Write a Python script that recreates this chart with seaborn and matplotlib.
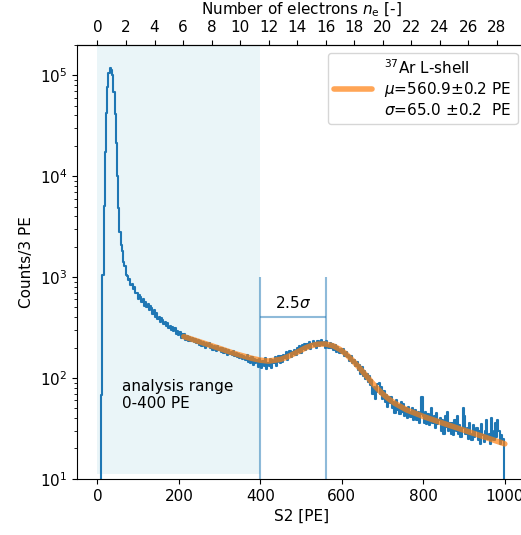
import matplotlib
matplotlib.use('Agg')
import matplotlib.pyplot as plt
import numpy as np
import pandas as pd
import seaborn as sns

# Histogram counts per 3 PE bin, bins start at 0 PE
counts_rise = [0, 0, 0, 68, 1050, 5100, 17400, 42000, 76000, 105000,
               118000, 112000, 100000, 69000, 41000, 21400, 10000, 4800, 2800, 2100]
counts_shoulder = [1800, 1420, 1280, 1060, 1020, 930, 950, 840, 860, 760,
                   790, 690, 700, 610, 660, 640, 570, 610, 520, 560,
                   500, 540, 470, 515, 490, 430, 475, 400, 445, 380,
                   405, 360, 390, 375, 340, 362, 325, 350, 310, 330,
                   300, 322, 290, 310, 272, 295, 265, 285, 250, 275]
counts_plateau = [248, 270, 240, 262, 235, 255, 230, 250, 244, 226,
                  245, 222, 240, 214, 232, 205, 228, 218, 200, 220,
                  205, 222, 196, 212, 190, 208, 200, 185, 206, 188,
                  200, 182, 196, 175, 192, 185, 170, 190, 172, 182,
                  168, 185, 165, 178, 160, 174, 158, 170, 155, 166,
                  160, 150, 168, 145, 158, 140, 162, 135, 155, 142,
                  150, 128, 155, 135, 125, 148, 130, 158, 122, 140]
counts_peak = [130, 155, 125, 150, 140, 162, 132, 145, 165, 140,
               165, 145, 170, 158, 180, 150, 175, 185, 160, 182,
               172, 190, 168, 198, 182, 205, 175, 210, 192, 215,
               190, 215, 200, 225, 195, 218, 230, 205, 222, 200,
               230, 205, 225, 240, 210, 228, 200, 232, 212, 198,
               220, 198, 215, 190, 210, 182, 202, 195, 175, 195,
               178, 195, 165, 180, 160, 170, 148, 165, 140, 152,
               150, 130, 145, 120, 135, 110, 128, 105, 118, 98,
               110, 92, 104, 85, 95, 70, 82, 62, 72, 88,
               90, 70, 82, 62, 75, 58, 68, 52, 65, 56]
counts_tail = [64, 50, 58, 45, 60, 48, 54, 44, 58, 46,
               55, 42, 50, 40, 52, 46, 41, 50, 38, 47,
               48, 38, 46, 36, 44, 64, 42, 36, 46, 35,
               44, 34, 40, 50, 36, 42, 32, 45, 35, 38,
               40, 30, 38, 28, 42, 33, 46, 30, 36, 28,
               36, 27, 38, 30, 42, 28, 34, 26, 32, 50,
               42, 28, 32, 25, 36, 28, 24, 34, 26, 30,
               32, 24, 30, 22, 35, 27, 23, 30, 38, 25,
               28, 22, 40, 30, 24, 36, 26, 38, 30, 22,
               27, 24, 25, 0]

# Fitted curve (Ar-37 L-shell peak + background)
fit_x = [212, 260, 300, 340, 380, 400, 420, 450, 465, 480, 495, 510, 525, 540, 560,
         580, 595, 610, 625, 640, 655, 670, 685, 700, 715, 730, 760, 800, 850, 900, 950, 1000]
fit_y = [257, 222, 196, 173, 156, 150, 147, 153, 161, 172, 184, 198, 209, 216, 217,
         207, 192, 173, 151, 130, 111, 94, 80, 69.5, 62, 56, 48, 41.5, 35.4, 30.3, 26, 22.2]

mu = 560.9
sigma = 65.0
range_max = 400
pe_per_electron = 35.0
bin_width = 3

counts = counts_rise + counts_shoulder + counts_plateau + counts_peak + counts_tail
hist_df = pd.DataFrame({
    'S2': np.arange(len(counts)) * bin_width + bin_width / 2,
    'Count': counts,
})

sns.set_style('ticks', {'text.color': 'black', 'axes.labelcolor': 'black',
                        'xtick.color': 'black', 'ytick.color': 'black',
                        'axes.edgecolor': 'black'})
plt.rcParams['font.family'] = ['DejaVu Sans']
plt.rcParams['font.size'] = 11

fig = plt.figure(figsize=(5.21, 5.35), dpi=100)
ax = fig.add_axes([0.148, 0.105, 0.86, 0.811])

# analysis range shading
ax.axvspan(0, range_max, ymin=0.01, color='lightblue', alpha=0.25, lw=0, zorder=0)

sns.histplot(data=hist_df, x='S2', weights='Count', binwidth=bin_width,
             binrange=(0, bin_width * len(counts)), element='step', fill=False,
             color='C0', linewidth=1.5, ax=ax, zorder=2)

label = '$^{37}$Ar L-shell\n$\\mu$=560.9$\\pm$0.2 PE\n$\\sigma$=65.0 $\\pm$0.2  PE'
sns.lineplot(x=fit_x, y=fit_y, color='C1', alpha=0.7, linewidth=4, ax=ax, label=label, zorder=3)

# 2.5 sigma marker
ax.vlines([range_max, mu], 10, 1000, color='C0', alpha=0.5, lw=1.5, zorder=1)
ax.hlines(400, range_max, mu, color='C0', alpha=0.5, lw=1.5, zorder=1)
ax.text((range_max + mu) / 2, 550, '2.5$\\sigma$', ha='center', va='center', fontsize=11)
ax.text(61, 68, 'analysis range\n0-400 PE', ha='left', va='center', fontsize=11)

ax.set_yscale('log')
ax.set_xlim(-50, 1050)
ax.set_ylim(10, 2e5)
ax.set_xlabel('S2 [PE]')
ax.set_ylabel('Counts/3 PE')

top = ax.secondary_xaxis('top', functions=(lambda x: x / pe_per_electron, lambda n: n * pe_per_electron))
top.set_xticks(np.arange(0, 29, 2))
top.set_xlabel('Number of electrons $n_\\mathrm{e}$ [-]')

ax.legend(loc='upper right', handlelength=2.5, fontsize=11)

fig.savefig('out.png', dpi=100)
